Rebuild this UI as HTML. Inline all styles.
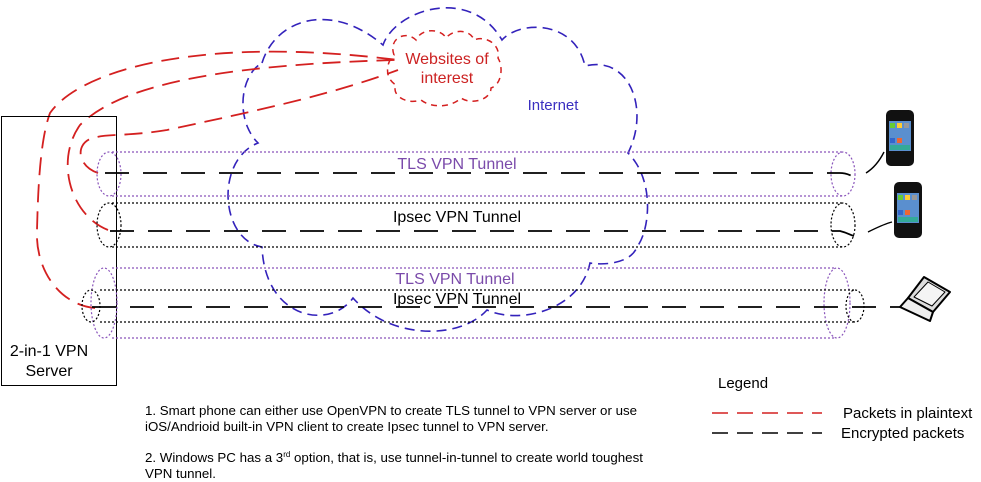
<!DOCTYPE html>
<html><head><meta charset="utf-8"><style>
html,body{margin:0;padding:0;background:#fff;}
svg{display:block;font-family:"Liberation Sans",Arial,sans-serif;}
</style></head><body>
<svg width="981" height="482" viewBox="0 0 981 482" xmlns="http://www.w3.org/2000/svg">
<path d="M262,63 C275,20 330,0 383,45 C395,10 470,-15 502,40 C520,20 575,20 585,66 C630,55 650,110 628,153 C655,180 650,230 637,247 C630,265 600,265 590,263 C580,310 520,325 487,310 C460,340 390,340 353,298 C330,330 265,320 262,247 C220,240 215,160 258,143 C235,120 240,75 262,63 Z" fill="none" stroke="#3322bb" stroke-width="1.6" stroke-dasharray="10,6"/>
<text x="553" y="110" font-size="15" fill="#3a2fc0" text-anchor="middle">Internet</text>
<path d="M394,55 C388,38 406,30 416,40 C421,28 441,28 446,38 C454,28 471,30 474,40 C486,35 501,45 498,58 C504,68 501,85 491,88 C491,100 471,105 461,98 C451,108 431,108 421,100 C406,105 391,95 396,85 C384,78 386,62 394,55 Z" fill="none" stroke="#d42020" stroke-width="1.5" stroke-dasharray="6,5"/>
<text x="447" y="64" font-size="16" fill="#cc2222" text-anchor="middle">Websites of</text>
<text x="447" y="83" font-size="16" fill="#cc2222" text-anchor="middle">interest</text>
<g fill="none" stroke="#d42020" stroke-width="1.8" stroke-dasharray="18,9">
<path d="M95,308 C60,305 35,270 37,230 C38,190 40,140 50,113 C80,70 200,35 398,60"/>
<path d="M108,230 C70,215 55,160 80,125 C120,85 220,65 395,60"/>
<path d="M98,173 C75,165 75,140 97,137 C110,134 130,136 167,130 C260,110 330,95 398,70"/>
</g>
<rect x="1.5" y="116.5" width="115" height="269" fill="none" stroke="#000" stroke-width="1"/>
<text x="49" y="356" font-size="16" text-anchor="middle">2-in-1 VPN</text>
<text x="49" y="376" font-size="16" text-anchor="middle">Server</text>
<g fill="none" stroke="#8a55bb" stroke-width="1.2" stroke-dasharray="2,2">
<line x1="112" y1="152" x2="842" y2="152"/><line x1="112" y1="196" x2="842" y2="196"/>
<ellipse cx="109" cy="174" rx="12" ry="22"/><ellipse cx="843" cy="174" rx="12" ry="22"/>
<line x1="112" y1="268" x2="835" y2="268"/><line x1="112" y1="338" x2="835" y2="338"/>
<ellipse cx="104" cy="303" rx="13" ry="35"/><ellipse cx="837" cy="303" rx="13" ry="35"/>
</g>
<g fill="none" stroke="#000" stroke-width="1.2" stroke-dasharray="2,2">
<line x1="112" y1="203" x2="843" y2="203"/><line x1="112" y1="247" x2="843" y2="247"/>
<ellipse cx="109" cy="225" rx="12" ry="22"/><ellipse cx="843" cy="225" rx="12" ry="22"/>
<line x1="100" y1="290" x2="855" y2="290"/><line x1="100" y1="322" x2="855" y2="322"/>
<ellipse cx="91" cy="306" rx="9" ry="16"/><ellipse cx="855" cy="306" rx="9" ry="16"/>
</g>
<g fill="none" stroke="#000" stroke-width="1.8" stroke-dasharray="24,14">
<path d="M105,173 L840,173 C848,173 850,176 856,177"/>
<path d="M110,231 L840,231 C848,233 850,235 854,236"/>
<path d="M92,307 L900,307"/>
</g>
<path d="M866,173 C874,168 880,160 884,152" fill="none" stroke="#000" stroke-width="1.4"/>
<path d="M868,232 C876,228 884,224 892,222" fill="none" stroke="#000" stroke-width="1.4"/>
<text x="457" y="169" font-size="16" fill="#7a4aaa" text-anchor="middle">TLS VPN Tunnel</text>
<text x="457" y="222" font-size="16" fill="#000" text-anchor="middle">Ipsec VPN Tunnel</text>
<text x="455" y="284" font-size="16" fill="#7a4aaa" text-anchor="middle">TLS VPN Tunnel</text>
<text x="457" y="304" font-size="16" fill="#000" text-anchor="middle">Ipsec VPN Tunnel</text>
<g>
<rect x="886" y="110" width="28" height="56" rx="5" fill="#111"/>
<rect x="889" y="121" width="22" height="30" fill="#5a8fcf"/>
<rect x="890" y="123" width="5" height="5" fill="#6c3"/><rect x="897" y="123" width="5" height="5" fill="#fc3"/><rect x="904" y="123" width="5" height="5" fill="#999"/>
<rect x="890" y="138" width="5" height="5" fill="#36c"/><rect x="897" y="138" width="5" height="5" fill="#e63"/><rect x="890" y="145" width="20" height="5" fill="#3a9"/>
<rect x="894" y="182" width="28" height="56" rx="5" fill="#111"/>
<rect x="897" y="193" width="22" height="30" fill="#5a8fcf"/>
<rect x="898" y="195" width="5" height="5" fill="#6c3"/><rect x="905" y="195" width="5" height="5" fill="#fc3"/><rect x="912" y="195" width="5" height="5" fill="#999"/>
<rect x="898" y="210" width="5" height="5" fill="#36c"/><rect x="905" y="210" width="5" height="5" fill="#e63"/><rect x="898" y="217" width="20" height="5" fill="#3a9"/>
</g>
<g stroke="#000" stroke-width="2" stroke-linejoin="round">
<polygon points="924,277 950,292 933,312 908,298" fill="#ddd"/>
<polygon points="928,282 945,292 932,306 914,297" fill="#f4f4f4" stroke-width="1"/>
<polygon points="908,298 933,312 930,321 900,307" fill="#eee"/>
</g>
<text x="718" y="388" font-size="15">Legend</text>
<line x1="712" y1="413" x2="822" y2="413" stroke="#d42020" stroke-width="1.6" stroke-dasharray="16,9"/>
<line x1="712" y1="433" x2="822" y2="433" stroke="#000" stroke-width="1.6" stroke-dasharray="16,9"/>
<text x="843" y="418" font-size="15">Packets in plaintext</text>
<text x="841" y="438" font-size="15">Encrypted packets</text>
<g font-size="13.3" fill="#000">
<text x="145" y="415">1. Smart phone can either use OpenVPN to create TLS tunnel to VPN server or use</text>
<text x="145" y="431">iOS/Andrioid built-in VPN client to create Ipsec tunnel to VPN server.</text>
<text x="145" y="462">2. Windows PC has a 3<tspan font-size="8" dy="-5">rd</tspan><tspan dy="5"> option, that is, use tunnel-in-tunnel to create world toughest</tspan></text>
<text x="145" y="478">VPN tunnel.</text>
</g>
</svg>
</body></html>
